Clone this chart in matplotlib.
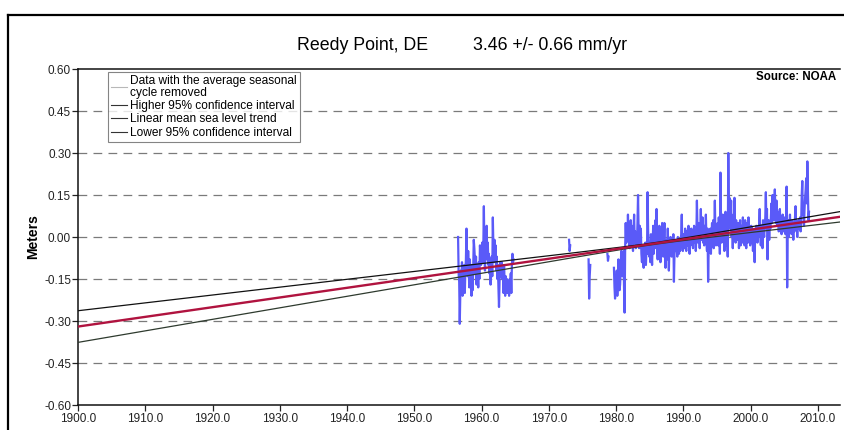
import numpy as np
import matplotlib
matplotlib.use("Agg")
import matplotlib.pyplot as plt
from matplotlib.lines import Line2D

plt.rcParams['font.family'] = ['Liberation Sans', 'DejaVu Sans']

# ---------------- data (monthly, seasonal cycle removed, meters) ----------------
station = "Reedy Point, DE"
rate_label = "3.46 +/- 0.66 mm/yr"
rate_mm_yr = 3.46
ci_mm_yr = 0.66
trend_ref_year = 1985.5
trend_ref_level = -0.024
x_ticks = [1900.0, 1910.0, 1920.0, 1930.0, 1940.0, 1950.0, 1960.0,
           1970.0, 1980.0, 1990.0, 2000.0, 2010.0]
y_ticks = [-0.60, -0.45, -0.30, -0.15, 0.00, 0.15, 0.30, 0.45, 0.60]

seg_a_start = 1956.5
seg_a = [0.00, -0.13, -0.16, -0.31, -0.20, -0.12,
         -0.15, -0.09, -0.21, -0.14, -0.18, -0.10, -0.20, -0.12, -0.08, 0.03, -0.07, -0.14,
         -0.05, -0.12, -0.18, -0.08, -0.13, -0.10, -0.21, -0.15, -0.19, -0.11, -0.01, -0.04,
         -0.08, -0.13, -0.07, -0.17, -0.10, -0.12, -0.18, -0.09, -0.15, -0.03, -0.06, -0.10,
         -0.05, -0.02, -0.09, -0.04, 0.11, -0.06, -0.12, -0.03, -0.08, 0.04, -0.07, -0.02,
         -0.10, -0.06, -0.13, -0.08, -0.17, -0.11, -0.07, -0.14, 0.07, -0.04, -0.09, -0.01,
         -0.08, -0.03, -0.12, -0.07, -0.15, -0.10, -0.18, -0.25, -0.16, -0.09, -0.14, -0.11,
         -0.09, -0.15, -0.12, -0.20, -0.10, -0.16, -0.21, -0.14, -0.19, -0.15, -0.20, -0.17,
         -0.16, -0.21, -0.15, -0.19, -0.13, -0.20, -0.10, -0.06, -0.09, -0.08]

seg_b_start = 1973.0
seg_b = [-0.01, -0.05, -0.03]

seg_c_start = 1975.9
seg_c = [-0.08, -0.22, -0.14, -0.10]

seg_d_start = 1978.7
seg_d = [-0.06, -0.085, -0.07]

seg_e_start = 1979.67
seg_e = [-0.11, -0.18, -0.22, -0.14,
         -0.19, -0.12, -0.21, -0.16, -0.08, -0.15, -0.19, -0.17, -0.12, -0.05, -0.09, -0.14,
         -0.10, -0.05, -0.18, -0.27, -0.04, 0.05, -0.02, 0.03, -0.01, 0.08, 0.00, -0.03,
         -0.04, 0.02, 0.06, -0.03, 0.04, 0.01, -0.05, 0.03, 0.08, -0.02, 0.02, -0.04,
         0.01, -0.03, 0.05, 0.15, 0.02, -0.04, 0.04, -0.01, 0.03, -0.06, -0.09, -0.03,
         -0.07, -0.11, -0.04, -0.08, -0.02, -0.10, -0.05, -0.06, 0.16, 0.02, -0.03, -0.07,
         -0.02, -0.09, 0.01, -0.05, -0.10, -0.03, 0.04, -0.06, 0.00, -0.04, 0.06, -0.01,
         0.10, -0.03, -0.08, 0.02, -0.05, 0.04, -0.02, -0.09, 0.01, -0.06, 0.05, -0.04,
         -0.07, -0.02, 0.05, -0.04, -0.11, -0.06, -0.01, -0.08, 0.03, -0.05, -0.12, -0.03,
         -0.06, 0.00, -0.04, -0.07, -0.02, -0.05, 0.01, -0.16, -0.06, -0.03, -0.01, -0.05,
         -0.04, -0.07, 0.00, -0.03, -0.06, -0.01, -0.05, -0.02, 0.01, 0.08, -0.03, -0.05,
         -0.02, 0.01, -0.04, 0.03, -0.01, -0.05, 0.02, -0.03, 0.00, 0.04, -0.02, -0.06,
         0.00, -0.03, 0.03, -0.01, 0.02, -0.04, 0.01, 0.04, -0.02, 0.02, -0.05, 0.00,
         0.13, 0.03, -0.02, 0.05, 0.00, -0.04, 0.02, 0.10, -0.01, 0.03, 0.07, -0.02,
         0.01, -0.03, 0.04, 0.00, 0.08, -0.02, -0.05, 0.03, -0.16, -0.04, 0.02, -0.01,
         0.03, -0.06, 0.01, 0.05, -0.02, 0.06, -0.04, 0.02, 0.13, 0.01, -0.03, 0.04,
         0.00, 0.05, -0.03, 0.07, 0.02, -0.06, 0.23, 0.06, -0.02, 0.03, 0.08, -0.01,
         0.04, -0.05, 0.02, 0.09, -0.03, 0.05, 0.01, -0.07, 0.30, 0.07, 0.14, 0.03,
         0.06, 0.13, 0.00, 0.05, -0.04, 0.08, 0.02, 0.14, 0.04, -0.02, 0.06, 0.01,
         0.03, -0.01, 0.05, -0.04, 0.02, 0.06, -0.03, 0.01, 0.04, -0.02, 0.07, 0.00,
         0.02, -0.03, 0.06, 0.01, -0.04, 0.05, 0.03, -0.02, 0.07, 0.00, 0.04, -0.03,
         0.01, 0.04, -0.02, 0.03, -0.05, 0.02, 0.00, -0.09, 0.03, -0.01, 0.04, 0.01,
         -0.02, 0.03, 0.00, 0.05, 0.10, 0.02, -0.03, 0.04, 0.01, -0.04, 0.06, 0.02,
         0.00, 0.04, 0.07, 0.16, 0.03, 0.10, -0.08, 0.02, 0.06, -0.01, 0.05, 0.03,
         0.07, 0.12, 0.05, 0.15, 0.08, 0.06, 0.11, 0.17, 0.09, 0.05, 0.13, 0.07,
         0.04, 0.09, 0.02, 0.06, 0.10, 0.03, 0.07, 0.01, 0.05, 0.08, 0.02, 0.06,
         0.03, 0.07, 0.01, 0.05, 0.18, -0.18, 0.02, 0.06, 0.00, 0.04, 0.08, 0.03,
         0.05, 0.01, 0.06, 0.03, -0.01, 0.04, 0.02, 0.07, 0.11, 0.03, 0.05, 0.00,
         0.04, 0.06, 0.03, 0.05, 0.07, 0.02, 0.05, 0.15, 0.20, 0.08, 0.12, 0.04,
         0.10, 0.14, 0.17, 0.21, 0.12, 0.27, 0.16, 0.06, 0.09]

segments = [(seg_a_start, seg_a), (seg_b_start, seg_b), (seg_c_start, seg_c),
            (seg_d_start, seg_d), (seg_e_start, seg_e)]

legend_labels = ["Data with the average seasonal\ncycle removed",
                 "Higher 95% confidence interval",
                 "Linear mean sea level trend",
                 "Lower 95% confidence interval"]

# ---------------- figure ----------------
W, H = 844, 430
fig = plt.figure(figsize=(W / 100, H / 100), dpi=100)
fig.patch.set_facecolor("white")

ax_l, ax_r = 78 / W, 840 / W
ax_b, ax_t = (H - 405) / H, (H - 69) / H
ax = fig.add_axes([ax_l, ax_b, ax_r - ax_l, ax_t - ax_b])

x0, x1 = 1900.0, 1900.0 + (840 - 78) / 6.727
ax.set_xlim(x0, x1)
ax.set_ylim(-0.60, 0.60)

# grid (dashed) for interior ticks
for yv in y_ticks[1:-1]:
    ax.axhline(yv, color="#7a7a7a", lw=0.9, ls=(0, (7, 5)), zorder=1)

# data
blue = "#5a5af8"
for start, vals in segments:
    t = start + np.arange(len(vals)) / 12.0
    ax.plot(t, vals, color=blue, lw=1.6, zorder=2)

# trend and confidence lines
tt = np.linspace(x0, x1, 400)
trend = trend_ref_level + rate_mm_yr / 1000.0 * (tt - trend_ref_year)
half = np.sqrt(0.003 ** 2 + (ci_mm_yr / 1000.0 * (tt - trend_ref_year)) ** 2)
ax.plot(tt, trend + half, color="#111111", lw=0.9, zorder=3)
ax.plot(tt, trend - half, color="#2e3a2e", lw=0.9, zorder=3)
ax.plot(tt, trend, color="#b0133f", lw=1.7, zorder=4)

# spines
ax.spines["right"].set_visible(False)
for s in ["left", "top", "bottom"]:
    ax.spines[s].set_linewidth(1.1)
    ax.spines[s].set_color("#111111")

ax.set_yticks(y_ticks)
ax.set_yticklabels([f"{v:.2f}" for v in y_ticks])
ax.set_xticks(x_ticks)
ax.set_xticklabels([f"{v:.1f}" for v in x_ticks])
ax.tick_params(axis="both", direction="out", length=4, width=0.9,
               labelsize=8.5, colors="#222222", pad=2)
ax.tick_params(axis="y", pad=1)

ax.set_ylabel("Meters", fontsize=10, fontweight="bold", labelpad=3)

# legend
handles = [Line2D([], [], color="#b8b8b8", lw=0.8),
           Line2D([], [], color="#333333", lw=0.8),
           Line2D([], [], color="#333333", lw=0.8),
           Line2D([], [], color="#333333", lw=0.8)]
leg = ax.legend(handles, legend_labels, loc="upper left",
                bbox_to_anchor=((108 - 78) / (840 - 78), 1 - (72 - 69) / (405 - 69)),
                fontsize=8.6, frameon=True, fancybox=False, handlelength=1.3,
                handletextpad=0.3, labelspacing=0.12, borderpad=0.25,
                borderaxespad=0.0)
leg.get_frame().set_edgecolor("#666666")
leg.get_frame().set_linewidth(0.8)
leg.set_zorder(10)
for txt in leg.get_texts():
    txt.set_linespacing(0.95)

# Source
ax.text(1 - 4 / (840 - 78), 1 - 8 / (405 - 69), "Source: NOAA", transform=ax.transAxes,
        ha="right", va="center", fontsize=8.3, fontweight="bold", zorder=11)

# title
fig.text(363 / W, 1 - 45 / H, station, ha="center", va="center", fontsize=12.8)
fig.text(550 / W, 1 - 45 / H, rate_label, ha="center", va="center", fontsize=12.8)

# outer frame (left and top edges visible)
fig.add_artist(Line2D([8 / W, 8 / W], [0, 1 - 15 / H], color="black", lw=1.6,
                      transform=fig.transFigure))
fig.add_artist(Line2D([8 / W, 1], [1 - 15 / H, 1 - 15 / H], color="black", lw=1.6,
                      transform=fig.transFigure))

fig.savefig("out.png", dpi=100)
